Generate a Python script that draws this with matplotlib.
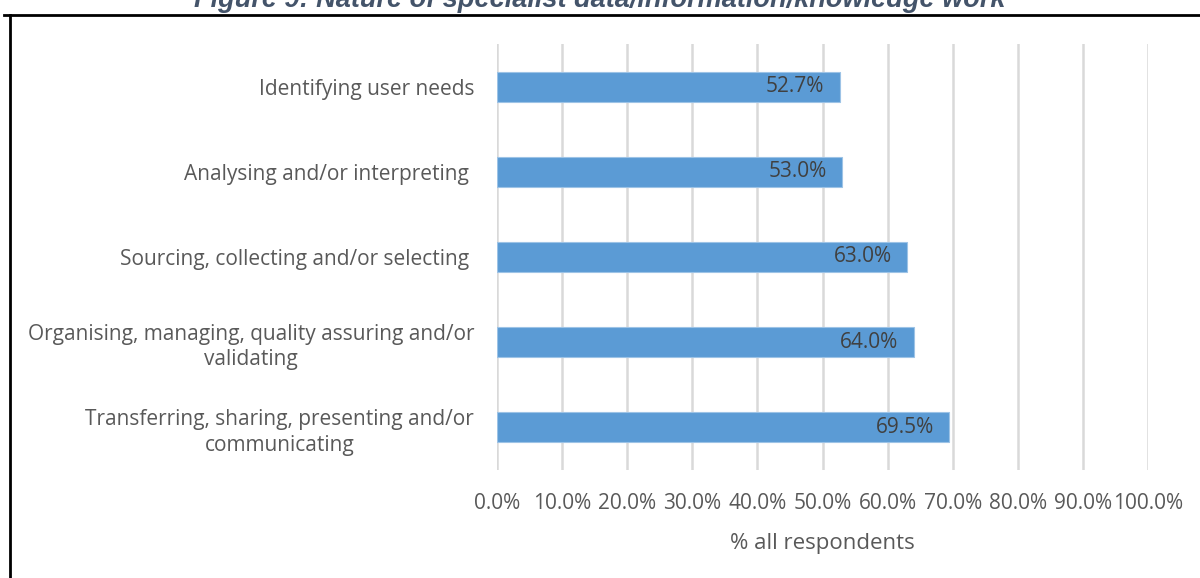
import matplotlib.pyplot as plt
from matplotlib.lines import Line2D
from matplotlib.ticker import FuncFormatter

categories = [
    "Identifying user needs",
    "Analysing and/or interpreting ",
    "Sourcing, collecting and/or selecting ",
    "Organising, managing, quality assuring and/or\nvalidating",
    "Transferring, sharing, presenting and/or\ncommunicating",
]
values = [52.7, 53.0, 63.0, 64.0, 69.5]
x_ticks = [0, 10, 20, 30, 40, 50, 60, 70, 80, 90, 100]

plt.rcParams['font.family'] = ['Open Sans', 'DejaVu Sans']
text_col = '#595959'

fig = plt.figure(figsize=(12, 5.78), dpi=100)
ax = fig.add_axes([497 / 1200, 1 - 470 / 578, (1148 - 497) / 1200, (470 - 44) / 578])

y = list(range(len(categories)))
ax.barh(y, values, height=0.35, color='#5B9BD5', edgecolor='#9DC3E6', linewidth=0.8, zorder=3)
ax.set_ylim(len(categories) - 0.5, -0.5)
ax.set_xlim(0, 100)

for yi, v in zip(y, values):
    ax.text(v - 2.4, yi, f"{v:.1f}%", ha='right', va='center', fontsize=15, color='#404040', zorder=4)

ax.set_xticks(x_ticks)
ax.xaxis.set_major_formatter(FuncFormatter(lambda v, p: f"{v:.1f}%"))
ax.grid(axis='x', color='#D9D9D9', linewidth=1.8, zorder=0)
ax.set_yticks(y)
ax.set_yticklabels(categories, multialignment='center', linespacing=1.3)
ax.tick_params(axis='y', length=0, pad=16.5, labelsize=15, labelcolor=text_col)
ax.tick_params(axis='x', length=0, pad=16.5, labelsize=15, labelcolor=text_col)
for s in ax.spines.values():
    s.set_visible(False)

ax.set_xlabel("% all respondents", fontsize=16, color=text_col, labelpad=14)

# cut-off figure caption and frame
fig.text(0.5, 1 - 7 / 578, "Figure 9: Nature of specialist data/information/knowledge work",
         ha='center', va='baseline', fontsize=19.5, style='italic', weight='bold', color='#44546A',
         family=['Liberation Sans', 'DejaVu Sans'])
fig.add_artist(Line2D([4 / 1200, 1], [1 - 15 / 578, 1 - 15 / 578], transform=fig.transFigure, color='black', linewidth=2))
fig.add_artist(Line2D([9.5 / 1200, 9.5 / 1200], [1 - 15 / 578, 0], transform=fig.transFigure, color='black', linewidth=2))

fig.savefig("out.png", dpi=100)
